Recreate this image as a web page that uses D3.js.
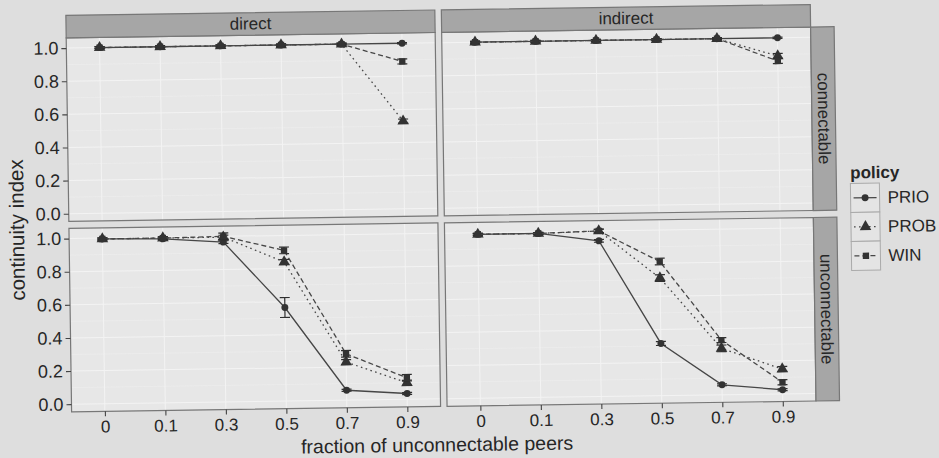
<!DOCTYPE html>
<html>
<head>
<meta charset="utf-8">
<script src="https://cdn.jsdelivr.net/npm/d3@7"></script>
<style>
  html, body { margin: 0; padding: 0; background: #dedede; }
  svg { display: block; font-family: "Liberation Sans", Arial, Helvetica, sans-serif; }
</style>
</head>
<body>
<svg id="chart" width="939" height="458"></svg>
<script>
// Categories and facet labels
const fractions = ["0", "0.1", "0.3", "0.5", "0.7", "0.9"];
const policies = ["PRIO", "PROB", "WIN"];
const modes = ["direct", "indirect"];
const peerTypes = ["connectable", "unconnectable"];
const yTicks = [0, 0.2, 0.4, 0.6, 0.8, 1.0];

// Mean continuity index per panel, one row per policy (PRIO, PROB, WIN)
const directConnectable = [
  [1.00, 1.00, 1.00, 1.00, 1.00, 1.00],
  [1.00, 1.00, 1.00, 1.00, 1.00, 0.53],
  [1.00, 1.00, 1.00, 1.00, 1.00, 0.89]
];
const indirectConnectable = [
  [1.00, 1.00, 1.00, 1.00, 1.00, 1.00],
  [1.00, 1.00, 1.00, 1.00, 1.00, 0.89],
  [1.00, 1.00, 1.00, 1.00, 1.00, 0.86]
];
const directUnconnectable = [
  [0.995, 0.99, 0.965, 0.565, 0.06, 0.035],
  [0.995, 0.995, 0.995, 0.84, 0.23, 0.10],
  [0.995, 0.995, 1.00, 0.91, 0.28, 0.13]
];
const indirectUnconnectable = [
  [0.99, 0.99, 0.94, 0.315, 0.06, 0.025],
  [0.99, 0.99, 1.00, 0.71, 0.28, 0.15],
  [0.99, 0.99, 1.00, 0.81, 0.33, 0.07]
];

// Half-width of the confidence interval per point
const directConnectableErr = [
  [0.004, 0.004, 0.004, 0.004, 0.004, 0.004],
  [0.006, 0.006, 0.006, 0.006, 0.006, 0.012],
  [0.006, 0.006, 0.006, 0.006, 0.006, 0.015]
];
const indirectConnectableErr = [
  [0.004, 0.004, 0.004, 0.004, 0.004, 0.004],
  [0.006, 0.006, 0.006, 0.006, 0.006, 0.015],
  [0.006, 0.006, 0.006, 0.006, 0.006, 0.015]
];
const directUnconnectableErr = [
  [0.005, 0.005, 0.008, 0.06, 0.006, 0.006],
  [0.006, 0.008, 0.012, 0.015, 0.015, 0.015],
  [0.006, 0.008, 0.02, 0.02, 0.02, 0.02]
];
const indirectUnconnectableErr = [
  [0.005, 0.005, 0.008, 0.012, 0.006, 0.006],
  [0.006, 0.006, 0.01, 0.02, 0.02, 0.015],
  [0.006, 0.006, 0.01, 0.02, 0.015, 0.015]
];

const panelData = [
  { mode: "direct", peer: "connectable", mean: directConnectable, err: directConnectableErr },
  { mode: "indirect", peer: "connectable", mean: indirectConnectable, err: indirectConnectableErr },
  { mode: "direct", peer: "unconnectable", mean: directUnconnectable, err: directUnconnectableErr },
  { mode: "indirect", peer: "unconnectable", mean: indirectUnconnectable, err: indirectUnconnectableErr }
];

// Layout
const colX = [[69, 438], [444.5, 813.5]];
const rowY = [[32, 215.5], [222.5, 406]];
const stripTop = 9.5, stripRightW = 23.5;
const ink = "#464646";
const textCol = "#262626";
const tickFont = 17;

const policyStyle = {
  PRIO: { dash: null, symbol: d3.symbolCircle, size: 38 },
  PROB: { dash: "1.6,3.4", symbol: d3.symbolTriangle, size: 58 },
  WIN:  { dash: "5,3",   symbol: d3.symbolSquare, size: 40 }
};

const svg = d3.select("#chart");
svg.append("rect").attr("width", 939).attr("height", 458).attr("fill", "#dedede");

// the whole page sits slightly tilted
const root = svg.append("g").attr("transform", "rotate(-0.83, 470, 229)");

panelData.forEach(p => {
  const ci = modes.indexOf(p.mode), ri = peerTypes.indexOf(p.peer);
  const [x0, x1] = colX[ci], [y0, y1] = rowY[ri];
  const x = d3.scalePoint().domain(fractions).range([x0, x1]).padding(0.55);
  const y = d3.scaleLinear().domain([-0.046, 1.062]).range([y1, y0]);
  const g = root.append("g");

  g.append("rect").attr("x", x0).attr("y", y0).attr("width", x1 - x0).attr("height", y1 - y0)
    .attr("fill", "#e7e7e7");

  // grid
  const minor = [0.1, 0.3, 0.5, 0.7, 0.9];
  g.selectAll(".gmin").data(minor).join("line")
    .attr("x1", x0).attr("x2", x1).attr("y1", d => y(d)).attr("y2", d => y(d))
    .attr("stroke", "#eeeeee").attr("stroke-width", 0.6);
  g.selectAll(".gy").data(yTicks).join("line")
    .attr("x1", x0).attr("x2", x1).attr("y1", d => y(d)).attr("y2", d => y(d))
    .attr("stroke", "#f3f3f3").attr("stroke-width", 1);
  g.selectAll(".gx").data(fractions).join("line")
    .attr("x1", d => x(d)).attr("x2", d => x(d)).attr("y1", y0).attr("y2", y1)
    .attr("stroke", "#f3f3f3").attr("stroke-width", 1);

  // series
  policies.forEach((pol, k) => {
    const st = policyStyle[pol];
    const pts = fractions.map((f, i) => ({ f, v: p.mean[k][i], e: p.err[k][i] }));
    const line = d3.line().x(d => x(d.f)).y(d => y(d.v));
    g.append("path").attr("d", line(pts)).attr("fill", "none")
      .attr("stroke", ink).attr("stroke-width", 1.3)
      .attr("stroke-dasharray", st.dash);
    // error bars
    const eb = g.append("g").attr("stroke", "#2e2e2e").attr("stroke-width", 1.2);
    pts.forEach(d => {
      const cx = x(d.f), ya = y(d.v + d.e), yb = y(d.v - d.e);
      eb.append("line").attr("x1", cx).attr("x2", cx).attr("y1", ya).attr("y2", yb);
      eb.append("line").attr("x1", cx - 5).attr("x2", cx + 5).attr("y1", ya).attr("y2", ya);
      eb.append("line").attr("x1", cx - 5).attr("x2", cx + 5).attr("y1", yb).attr("y2", yb);
    });
    g.selectAll(null).data(pts).join("path")
      .attr("d", d3.symbol().type(st.symbol).size(st.size))
      .attr("transform", d => `translate(${x(d.f)},${y(d.v)})`)
      .attr("fill", "#333");
  });

  g.append("rect").attr("x", x0).attr("y", y0).attr("width", x1 - x0).attr("height", y1 - y0)
    .attr("fill", "none").attr("stroke", "#777").attr("stroke-width", 1.2);

  // axes
  if (ci === 0) {
    const ax = g.append("g").attr("transform", `translate(${x0},0)`)
      .call(d3.axisLeft(y).tickValues(yTicks).tickFormat(d3.format(".1f")).tickSize(5).tickPadding(3));
    ax.select(".domain").remove();
    ax.selectAll("line").attr("stroke", "#444").attr("stroke-width", 1.1);
    ax.selectAll("text").attr("font-size", 18).attr("fill", textCol)
      .attr("font-family", "Liberation Sans, Arial, sans-serif");
  }
  if (ri === 1) {
    const ax = g.append("g").attr("transform", `translate(0,${y1})`)
      .call(d3.axisBottom(x).tickSize(5).tickPadding(4));
    ax.select(".domain").remove();
    ax.selectAll("line").attr("stroke", "#444").attr("stroke-width", 1.1);
    ax.selectAll("text").attr("font-size", tickFont).attr("fill", textCol)
      .attr("font-family", "Liberation Sans, Arial, sans-serif");
  }
});

// strips
modes.forEach((m, ci) => {
  const [x0, x1] = colX[ci];
  root.append("rect").attr("x", x0).attr("y", stripTop).attr("width", x1 - x0)
    .attr("height", rowY[0][0] - stripTop).attr("fill", "#a6a6a6")
    .attr("stroke", "#777").attr("stroke-width", 1.2);
  root.append("text").attr("x", (x0 + x1) / 2).attr("y", (stripTop + rowY[0][0]) / 2)
    .attr("text-anchor", "middle").attr("dominant-baseline", "central")
    .attr("font-size", 17).attr("fill", textCol).text(m);
});
peerTypes.forEach((t, ri) => {
  const [y0, y1] = rowY[ri];
  const sx = colX[1][1];
  root.append("rect").attr("x", sx).attr("y", y0).attr("width", stripRightW)
    .attr("height", y1 - y0).attr("fill", "#a6a6a6")
    .attr("stroke", "#777").attr("stroke-width", 1.2);
  const cx = sx + stripRightW / 2, cy = (y0 + y1) / 2;
  root.append("text").attr("transform", `translate(${cx},${cy}) rotate(90)`)
    .attr("text-anchor", "middle").attr("dominant-baseline", "central")
    .attr("font-size", 17).attr("fill", textCol).text(t);
});

// axis titles
root.append("text").attr("x", 434).attr("y", 451)
  .attr("text-anchor", "middle").attr("font-size", 19.5).attr("fill", textCol)
  .text("fraction of unconnectable peers");
root.append("text").attr("transform", "translate(24,223.5) rotate(-90)")
  .attr("text-anchor", "middle").attr("font-size", 20.5).attr("fill", textCol)
  .text("continuity index");

// legend
const lg = root.append("g").attr("transform", "translate(851,0)");
lg.append("text").attr("x", 0).attr("y", 184).attr("font-size", 17).attr("font-weight", "bold")
  .attr("fill", textCol).text("policy");
policies.forEach((pol, i) => {
  const st = policyStyle[pol];
  const ky = 189 + i * 29;
  lg.append("rect").attr("x", 0).attr("y", ky).attr("width", 29).attr("height", 29)
    .attr("fill", "#e4e4e4").attr("stroke", "#aaa").attr("stroke-width", 1);
  lg.append("line").attr("x1", 3).attr("x2", 26).attr("y1", ky + 14.5).attr("y2", ky + 14.5)
    .attr("stroke", ink).attr("stroke-width", 1.3).attr("stroke-dasharray", st.dash);
  lg.append("path").attr("d", d3.symbol().type(st.symbol).size(st.size))
    .attr("transform", `translate(14.5,${ky + 14.5})`).attr("fill", "#333");
  lg.append("text").attr("x", 37).attr("y", ky + 14.5).attr("dominant-baseline", "central")
    .attr("font-size", 17).attr("fill", textCol).text(pol);
});
</script>
</body>
</html>
